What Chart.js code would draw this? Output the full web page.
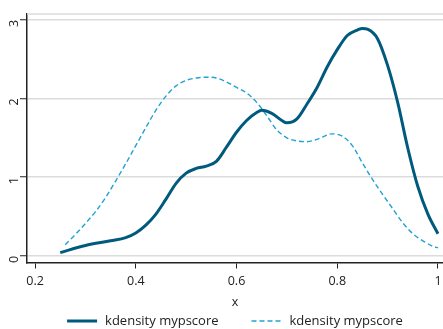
<!DOCTYPE html>
<html>
<head>
<meta charset="utf-8">
<script src="https://cdn.jsdelivr.net/npm/chart.js@4/dist/chart.umd.min.js"></script>
<style>
  html, body { margin: 0; padding: 0; background: #fff; }
  #wrap { width: 443px; height: 329px; }
</style>
</head>
<body>
<div id="wrap"><canvas id="chart"></canvas></div>
<script>
// kdensity of mypscore, two groups
const xSolid = [0.25, 0.30, 0.35, 0.38, 0.40, 0.42, 0.44, 0.46, 0.48, 0.50, 0.52, 0.54, 0.56, 0.58, 0.60, 0.62, 0.64, 0.65, 0.67, 0.69, 0.70, 0.72, 0.74, 0.76, 0.78, 0.80, 0.82, 0.84, 0.85, 0.86, 0.88, 0.90, 0.92, 0.94, 0.96, 0.98, 1.00];
const ySolid = [0.04, 0.13, 0.19, 0.23, 0.29, 0.39, 0.53, 0.72, 0.92, 1.05, 1.11, 1.14, 1.20, 1.38, 1.57, 1.72, 1.82, 1.85, 1.81, 1.72, 1.69, 1.74, 1.93, 2.14, 2.40, 2.62, 2.80, 2.87, 2.89, 2.88, 2.76, 2.42, 1.95, 1.37, 0.88, 0.53, 0.28];

const xDashed = [0.26, 0.28, 0.30, 0.32, 0.34, 0.36, 0.38, 0.40, 0.42, 0.44, 0.46, 0.48, 0.50, 0.52, 0.54, 0.56, 0.58, 0.60, 0.62, 0.64, 0.66, 0.68, 0.70, 0.72, 0.74, 0.76, 0.79, 0.81, 0.83, 0.85, 0.87, 0.89, 0.91, 0.93, 0.95, 0.97, 0.99, 1.00];
const yDashed = [0.14, 0.27, 0.41, 0.56, 0.74, 0.95, 1.17, 1.40, 1.63, 1.85, 2.03, 2.16, 2.23, 2.26, 2.27, 2.26, 2.21, 2.14, 2.07, 1.95, 1.78, 1.60, 1.50, 1.46, 1.45, 1.48, 1.55, 1.52, 1.40, 1.18, 0.97, 0.78, 0.60, 0.42, 0.28, 0.19, 0.12, 0.10];

const xTicks = [0.2, 0.4, 0.6, 0.8, 1];
const yTicks = [0, 1, 2, 3];
const seriesLabels = ['kdensity mypscore', 'kdensity mypscore'];

const FONT = '"Open Sans", "DejaVu Sans", sans-serif';

function toPoints(xs, ys) {
    return xs.map((x, i) => ({ x: x, y: ys[i] }));
}

// light line along the top of the plot region
const topLine = {
    id: 'topLine',
    beforeDatasetsDraw: function(chart) {
        const ctx = chart.ctx;
        const a = chart.chartArea;
        ctx.save();
        ctx.strokeStyle = '#dcdcdc';
        ctx.lineWidth = 1.5;
        ctx.beginPath();
        ctx.moveTo(a.left, a.top + 0.5);
        ctx.lineTo(a.right, a.top + 0.5);
        ctx.stroke();
        ctx.restore();
    }
};

// legend row under the axis title, line samples keep the dataset dash
const bottomLegend = {
    id: 'bottomLegend',
    afterDraw: function(chart) {
        const ctx = chart.ctx;
        const a = chart.chartArea;
        const sets = chart.data.datasets;
        const lineW = 30, gapText = 8, gapItem = 33;
        ctx.save();
        ctx.font = '13px ' + FONT;
        ctx.textBaseline = 'middle';
        ctx.fillStyle = '#222';
        const widths = sets.map(d => ctx.measureText(d.label).width);
        let total = 0;
        widths.forEach((w, i) => { total += lineW + gapText + w + (i ? gapItem : 0); });
        let x = (a.left + a.right) / 2 - total / 2;
        const y = chart.height - 8;
        sets.forEach((d, i) => {
            ctx.strokeStyle = d.borderColor;
            ctx.lineWidth = d.borderWidth;
            ctx.setLineDash(d.borderDash || []);
            ctx.beginPath();
            ctx.moveTo(x, y);
            ctx.lineTo(x + lineW, y);
            ctx.stroke();
            ctx.setLineDash([]);
            ctx.fillText(d.label, x + lineW + gapText, y);
            x += lineW + gapText + widths[i] + gapItem;
        });
        ctx.restore();
    }
};

new Chart(document.getElementById('chart'), {
    type: 'line',
    data: {
        datasets: [
            {
                label: seriesLabels[0],
                data: toPoints(xSolid, ySolid),
                borderColor: '#005a7e',
                borderWidth: 3,
                pointRadius: 0,
                cubicInterpolationMode: 'monotone',
                fill: false
            },
            {
                label: seriesLabels[1],
                data: toPoints(xDashed, yDashed),
                borderColor: '#22a2d0',
                borderWidth: 1.4,
                borderDash: [5, 3],
                pointRadius: 0,
                cubicInterpolationMode: 'monotone',
                fill: false
            }
        ]
    },
    plugins: [topLine, bottomLegend],
    options: {
        responsive: true,
        maintainAspectRatio: false,
        animation: false,
        layout: { padding: { top: 8, right: 0, left: 0, bottom: 19 } },
        plugins: {
            tooltip: { enabled: false },
            legend: { display: false }
        },
        scales: {
            x: {
                type: 'linear',
                min: 0.184,
                max: 1.01,
                afterBuildTicks: function(scale) {
                    scale.ticks = xTicks.map(v => ({ value: v }));
                },
                afterFit: function(scale) {
                    scale.paddingRight = 0;
                },
                ticks: {
                    color: '#222',
                    padding: 7,
                    font: { family: FONT, size: 12.5, lineHeight: 1 },
                    callback: v => String(v)
                },
                grid: {
                    drawOnChartArea: false,
                    tickLength: 6,
                    tickColor: '#222',
                    tickWidth: 1
                },
                border: { color: '#222', width: 1.5 },
                title: {
                    display: true,
                    text: 'x',
                    color: '#222',
                    padding: { top: 0, bottom: 0 },
                    font: { family: FONT, size: 12.5 }
                }
            },
            y: {
                type: 'linear',
                min: -0.086,
                max: 3.08,
                afterBuildTicks: function(scale) {
                    scale.ticks = yTicks.map(v => ({ value: v }));
                },
                afterFit: function(scale) {
                    scale.width = 27;
                },
                ticks: {
                    color: '#222',
                    padding: 6,
                    minRotation: 90,
                    maxRotation: 90,
                    font: { family: FONT, size: 12.5 }
                },
                grid: {
                    color: '#dcdcdc',
                    lineWidth: 1.5,
                    tickLength: 7,
                    tickColor: '#222',
                    tickWidth: 1
                },
                border: { color: '#222', width: 1.5 }
            }
        }
    }
});
</script>
</body>
</html>
